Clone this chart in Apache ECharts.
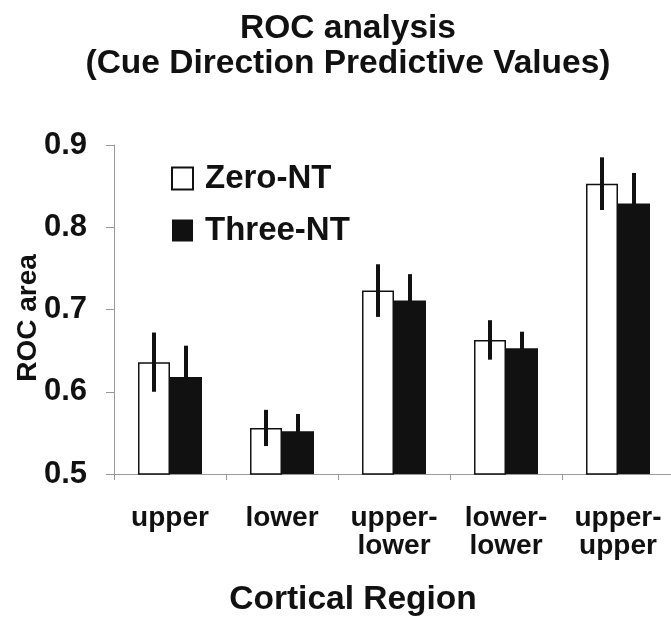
<!DOCTYPE html>
<html>
<head>
<meta charset="utf-8">
<script src="https://cdn.jsdelivr.net/npm/echarts@6/dist/echarts.min.js"></script>
<style>html,body{margin:0;padding:0;background:#fff}#c{width:671px;height:618px}</style>
</head>
<body>
<div id="c"></div>
<script>
const categories = ['upper', 'lower', 'upper-\nlower', 'lower-\nlower', 'upper-\nupper'];
const zeroNT = [0.636, 0.556, 0.723, 0.663, 0.853];
const zeroErr = [0.036, 0.022, 0.032, 0.024, 0.032];
const threeNT = [0.618, 0.552, 0.711, 0.653, 0.829];
const threeErr = [0.038, 0.021, 0.032, 0.020, 0.037];
const yTicks = { min: 0.5, max: 0.9, interval: 0.1 };

const FONT = '"Liberation Sans", Arial, sans-serif';
const INK = '#111';
const AXIS = '#999';
const BAR_W = 32;

function errSeries(name, vals, errs, offset) {
  return {
    name: name + ' err',
    type: 'custom',
    z: 5,
    silent: true,
    data: vals.map((v, i) => [i, v, errs[i]]),
    encode: { x: 0, y: 1 },
    renderItem: function (params, api) {
      const i = api.value(0), v = api.value(1), e = api.value(2);
      const top = api.coord([i, v + e]);
      const bot = api.coord([i, v - e]);
      return {
        type: 'line',
        shape: { x1: top[0] + offset, y1: top[1], x2: bot[0] + offset, y2: bot[1] },
        style: { stroke: INK, lineWidth: 4 }
      };
    }
  };
}

const chart = echarts.init(document.getElementById('c'), null, { renderer: 'canvas' });
chart.setOption({
  animation: false,
  backgroundColor: '#fff',
  textStyle: { fontFamily: FONT },
  title: {
    text: 'ROC analysis\n(Cue Direction Predictive Values)',
    left: 343,
    textAlign: 'center',
    top: 6,
    textStyle: { fontFamily: FONT, fontSize: 33.5, fontWeight: 'bold', color: INK, lineHeight: 35 }
  },
  legend: {
    orient: 'vertical',
    left: 166,
    top: 157,
    padding: 5,
    itemWidth: 21,
    itemHeight: 22,
    itemGap: 19,
    icon: 'rect',
    selectedMode: false,
    textStyle: { fontFamily: FONT, fontSize: 33, fontWeight: 'bold', color: INK, lineHeight: 30, padding: [0, 0, 0, 7] },
    data: [
      { name: 'Zero-NT', itemStyle: { color: '#fff', borderColor: INK, borderWidth: 2 } },
      { name: 'Three-NT', itemStyle: { color: INK, borderColor: INK, borderWidth: 0 } }
    ]
  },
  grid: { left: 114, top: 145, width: 560, height: 329, containLabel: false, outerBoundsMode: 'none' },
  xAxis: {
    type: 'category',
    data: categories,
    name: 'Cortical Region',
    nameLocation: 'middle',
    nameGap: 109,
    nameMoveOverlap: false,
    nameTextStyle: { fontFamily: FONT, fontSize: 33.5, fontWeight: 'bold', color: INK, lineHeight: 33, padding: [0, 82, 0, 0] },
    axisLine: { lineStyle: { color: AXIS, width: 1 } },
    axisTick: { show: true, length: 6, lineStyle: { color: AXIS } },
    axisLabel: { interval: 0, hideOverlap: false, margin: 30, fontFamily: FONT, fontSize: 28, fontWeight: 'bold', color: INK, lineHeight: 28.5 }
  },
  yAxis: {
    type: 'value',
    min: yTicks.min,
    max: yTicks.max,
    interval: yTicks.interval,
    name: 'ROC area',
    nameLocation: 'middle',
    nameRotate: 90,
    nameGap: 72,
    nameMoveOverlap: false,
    nameTextStyle: { fontFamily: FONT, fontSize: 28, fontWeight: 'bold', color: INK, padding: [0, 17, 0, 0] },
    axisLine: { show: true, lineStyle: { color: AXIS, width: 1 } },
    axisTick: { show: true, length: 8, lineStyle: { color: AXIS } },
    splitLine: { show: false },
    axisLabel: { margin: 27, fontFamily: FONT, fontSize: 31, fontWeight: 'bold', color: INK, formatter: v => v.toFixed(1) }
  },
  series: [
    {
      name: 'Zero-NT', type: 'bar', data: zeroNT, barWidth: BAR_W, barGap: '0%',
      itemStyle: { color: '#fff', borderColor: INK, borderWidth: 1.5 }
    },
    {
      name: 'Three-NT', type: 'bar', data: threeNT, barWidth: BAR_W, barGap: '0%',
      itemStyle: { color: INK, borderColor: INK, borderWidth: 0 }
    },
    errSeries('Zero-NT', zeroNT, zeroErr, -BAR_W / 2),
    errSeries('Three-NT', threeNT, threeErr, BAR_W / 2)
  ]
});
</script>
</body>
</html>
